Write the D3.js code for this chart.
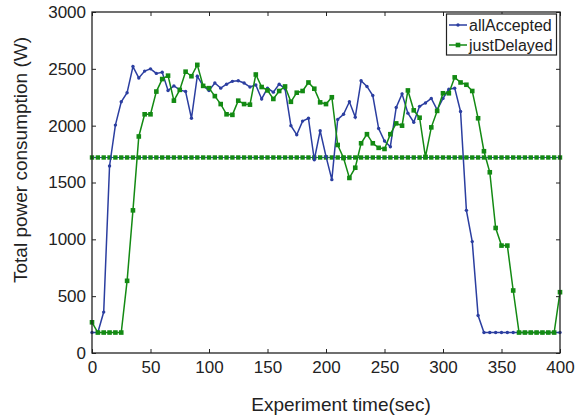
<!DOCTYPE html>
<html><head><meta charset="utf-8">
<script src="https://cdn.jsdelivr.net/npm/d3@7"></script>
<style>
body{margin:0;background:#fff;}
text{font-family:"Liberation Sans",Arial,Helvetica,sans-serif;fill:#222;}
</style></head>
<body><svg id="c" width="580" height="417"></svg>
<script>
const time = [0,5,10,15,20,25,30,35,40,45,50,55,60,65,70,75,80,85,90,95,100,105,110,115,120,125,130,135,140,145,150,155,160,165,170,175,180,185,190,195,200,205,210,215,220,225,230,235,240,245,250,255,260,265,270,275,280,285,290,295,300,305,310,315,320,325,330,335,340,345,350,355,360,365,370,375,380,385,390,395,400];
const allAccepted = [180,180,360,1645,2005,2210,2290,2520,2420,2480,2500,2460,2470,2310,2350,2315,2300,2065,2435,2350,2310,2375,2330,2365,2390,2395,2375,2340,2358,2235,2330,2295,2365,2325,2000,1920,2040,2065,1700,1955,1730,1525,2055,2100,2210,2075,2395,2345,2265,1975,1865,1815,2160,2280,2110,2030,2170,2200,2240,2140,2240,2320,2330,2125,1255,980,330,180,180,180,180,180,180,180,180,180,180,180,180,180,180];
const justDelayed = [270,180,180,180,180,180,635,1255,1905,2100,2100,2300,2410,2440,2220,2315,2475,2435,2535,2350,2330,2260,2190,2100,2095,2220,2190,2185,2450,2340,2310,2235,2305,2345,2210,2290,2305,2380,2325,2205,2190,2250,1830,1715,1540,1630,1845,1925,1845,1805,1795,1925,2020,2000,2310,2135,2070,1725,1985,2130,2285,2285,2425,2380,2360,2305,2065,1775,1590,1100,945,945,550,180,180,180,180,180,180,180,535];
const threshold = 1720;
const seriesNames = ["allAccepted","justDelayed"];
const xTicks = [0,50,100,150,200,250,300,350,400];
const yTicks = [0,500,1000,1500,2000,2500,3000];

const blue = "#2b3ea0", green = "#138a13";
const m = {left:92, right:20, top:12, bottom:64};
const W = 580, H = 417;
const svg = d3.select("#c");
const x = d3.scaleLinear().domain([0,400]).range([m.left, W-m.right]);
const y = d3.scaleLinear().domain([0,3000]).range([H-m.bottom, m.top]);

// threshold line
const thr = time.map(t => ({t, v: threshold}));
svg.append("path").datum(thr)
  .attr("d", d3.line().x(d=>x(d.t)).y(d=>y(d.v)))
  .attr("fill","none").attr("stroke",blue).attr("stroke-width",1);
svg.append("g").selectAll("rect").data(thr).join("rect")
  .attr("x", d=>x(d.t)-2.2).attr("y", d=>y(d.v)-2.2).attr("width",4.4).attr("height",4.4)
  .attr("fill",green);

const line = d3.line().x((d,i)=>x(time[i])).y(d=>y(d));
// allAccepted
svg.append("path").datum(allAccepted).attr("d", line)
  .attr("fill","none").attr("stroke",blue).attr("stroke-width",1.5);
svg.append("g").selectAll("circle").data(allAccepted).join("circle")
  .attr("cx",(d,i)=>x(time[i])).attr("cy",d=>y(d)).attr("r",1.7).attr("fill",blue);
// justDelayed
svg.append("path").datum(justDelayed).attr("d", line)
  .attr("fill","none").attr("stroke",green).attr("stroke-width",1.5);
svg.append("g").selectAll("rect").data(justDelayed).join("rect")
  .attr("x",(d,i)=>x(time[i])-2.3).attr("y",d=>y(d)-2.3).attr("width",4.6).attr("height",4.6).attr("fill",green);

// axes
const fs = "17px";
const gx = svg.append("g").attr("transform",`translate(0,${H-m.bottom})`)
  .call(d3.axisBottom(x).tickValues(xTicks).tickSize(-4).tickPadding(8).tickFormat(d3.format("d")));
const gxt = svg.append("g").attr("transform",`translate(0,${m.top})`)
  .call(d3.axisTop(x).tickValues(xTicks).tickSize(-4).tickFormat(""));
const gy = svg.append("g").attr("transform",`translate(${m.left},0)`)
  .call(d3.axisLeft(y).tickValues(yTicks).tickSize(-4).tickPadding(6).tickFormat(d3.format("d")));
const gyr = svg.append("g").attr("transform",`translate(${W-m.right},0)`)
  .call(d3.axisRight(y).tickValues(yTicks).tickSize(-4).tickFormat(""));
[gx,gxt,gy,gyr].forEach(g=>{
  g.select(".domain").remove();
  g.selectAll(".tick line").attr("stroke","#222").attr("stroke-width",1);
  g.selectAll("text").style("font-size",fs).attr("fill","#222").style("font-family","Liberation Sans, Arial, sans-serif");
});
svg.append("rect").attr("x",m.left).attr("y",m.top).attr("width",W-m.left-m.right).attr("height",H-m.top-m.bottom)
  .attr("fill","none").attr("stroke","#222").attr("stroke-width",1.3);

// titles
svg.append("text").attr("x",341).attr("y",411).attr("text-anchor","middle").style("font-size","19px").text("Experiment time(sec)");
svg.append("text").attr("transform","translate(27,160) rotate(-90)").attr("text-anchor","middle").style("font-size","19px").text("Total power consumption (W)");

// legend
const lg = svg.append("g");
lg.append("rect").attr("x",446.5).attr("y",14).attr("width",110).attr("height",41).attr("fill","#fff").attr("stroke","#222").attr("stroke-width",1.2);
[[blue,"allAccepted",25],[green,"justDelayed",45]].forEach(([c,t,yy],k)=>{
  lg.append("line").attr("x1",449).attr("x2",467).attr("y1",yy).attr("y2",yy).attr("stroke",c).attr("stroke-width",1.5);
  if(k===0) lg.append("circle").attr("cx",458).attr("cy",yy).attr("r",1.7).attr("fill",c);
  else lg.append("rect").attr("x",455.7).attr("y",yy-2.3).attr("width",4.6).attr("height",4.6).attr("fill",c);
  lg.append("text").attr("x",469).attr("y",yy).attr("dy","0.35em").style("font-size","16px").text(t);
});
</script></body></html>
